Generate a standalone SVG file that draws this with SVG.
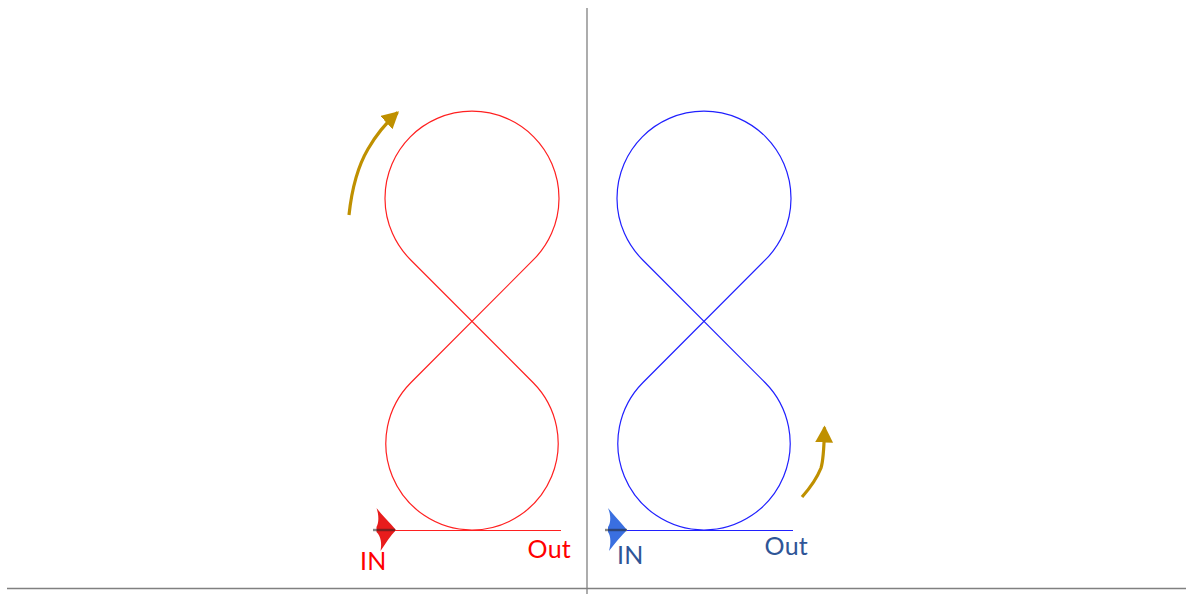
<svg xmlns="http://www.w3.org/2000/svg" width="1186" height="594" viewBox="0 0 1186 594">
<style>
.axis{stroke:#808080;stroke-width:1.3;fill:none}
.curve{fill:none;stroke-width:1.2}
.red{stroke:#ff2020}
.blue{stroke:#2020ff}
.dir{fill:none;stroke:#bf9000;stroke-width:3.2}
.lbl{font-family:"Lato","Open Sans",sans-serif;font-size:25px;letter-spacing:.3px}
.tick{stroke:#222;stroke-opacity:.55;stroke-width:2.4}
</style>
<defs>
<marker id="gold" markerUnits="userSpaceOnUse" markerWidth="20" markerHeight="20" refX="15" refY="9" orient="auto"><path d="M0 0L17 9L0 18Z" fill="#bf9000"/></marker>
<path id="eight" d="M-77 530.500H89M0 530A86.500 86.500 0 0 1 -61 382.500L61 260.200A87 87 0 1 0 -61 260.200L61 382.500A86.500 86.500 0 0 1 0 530"/>
</defs>
<rect width="1186" height="594" fill="#fff"/>
<g id="axes">
<path class="axis" d="M587 8V594"/>
<path class="axis" d="M7 588.500H1186"/>
</g>
<g id="connectors">
<path class="dir" marker-end="url(#gold)" d="M349 215C352 187 358 166 368 149C376 135 386 123 397.500 112.500"/>
<path class="dir" marker-end="url(#gold)" d="M802 497C810 488 817 478 821 468C824 458 824 445 824.500 427.500"/>
</g>
<g id="red-curve">
<use href="#eight" x="472" class="curve red"/>
<path fill="#e81c1c" d="M376.500 508C382 515 390 523 396 530C390 536 386 543 380.500 551C382 544 381 536 376.500 532L376.500 527C379 523 379 515 376.500 508Z"/>
<path class="tick" d="M373 530H395"/>
<text class="lbl" x="527.500" y="558" fill="#ff0000">Out</text>
<text class="lbl" x="360" y="570" fill="#ff0000">IN</text>
</g>
<g id="blue-curve">
<use href="#eight" x="704" class="curve blue"/>
<path fill="#3a6fe0" d="M608 508C614 515 621 523 627 530C621 536 615 543 609 551C611 544 611 536 608 532L608 527C611 523 611 515 608 508Z"/>
<path class="tick" d="M605 530H627"/>
<text class="lbl" x="764.500" y="555" fill="#2f5597">Out</text>
<text class="lbl" x="617" y="564" fill="#2f5597">IN</text>
</g>
</svg>
